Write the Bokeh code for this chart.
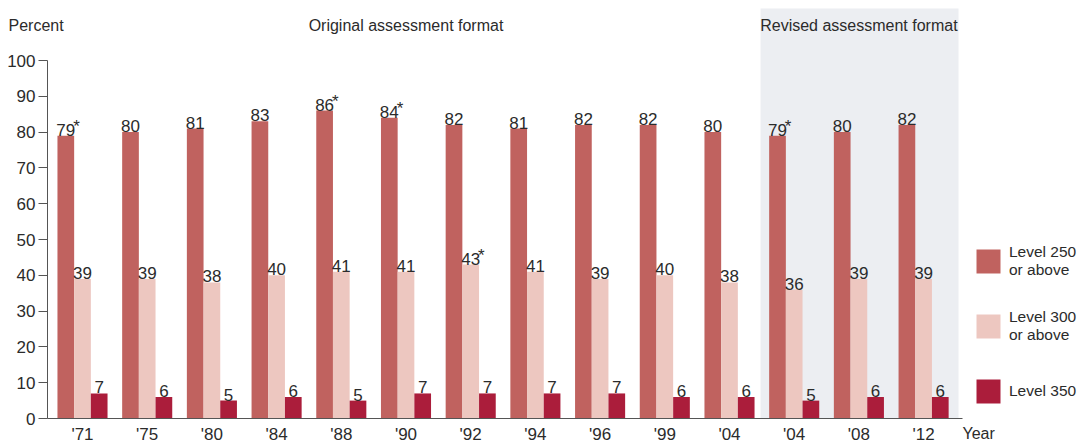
from bokeh.plotting import figure
from bokeh.models import Legend, LegendItem, BoxAnnotation, FixedTicker, Range1d
from bokeh.core.properties import value
from bokeh.embed import file_html
from bokeh.resources import INLINE

# ---- data ----
years = ["'71", "'75", "'80", "'84", "'88", "'90", "'92", "'94", "'96", "'99", "'04", "'04", "'08", "'12"]
level250 = [79, 80, 81, 83, 86, 84, 82, 81, 82, 82, 80, 79, 80, 82]
level300 = [39, 39, 38, 40, 41, 41, 43, 41, 39, 40, 38, 36, 39, 39]
level350 = [7, 6, 5, 6, 5, 7, 7, 7, 7, 6, 6, 5, 6, 6]
star250 = [True, False, False, False, True, True, False, False, False, False, False, True, False, False]
star300 = [False, False, False, False, False, False, True, False, False, False, False, False, False, False]
star350 = [False] * 14
series_names = ["Level 250\nor above", "Level 300\nor above", "Level 350"]
y_ticks = [0, 10, 20, 30, 40, 50, 60, 70, 80, 90, 100]
year_axis_title = "Year"
top_titles = ["Percent", "Original assessment format", "Revised assessment format"]
original_center = 5     # group index the "Original" heading is centred on
revised_center = 12     # group index the "Revised" heading is centred on
revised_start = 11      # first group of the revised format

FONT = "Liberation Sans"
FS = "16px"
NFS = "17px"
TXT = "#2b2b2b"
AXC = "#555555"
COLORS = ["#c0625f", "#edc7c0", "#ab1d3b"]
SHADE = "#eceef2"
BW = 0.258
W, H = 1080, 443
PX = 64.7                  # pixels per year group
PY = 3.58                  # pixels per percent
X0 = -82 / PX              # x value at the left edge of the figure
XE = (W - 82) / PX         # x value at the right edge
XL = -0.541                # x value of the y axis
XR = 13.6                  # end of the x axis line
Y1 = 418 / PY              # y value at top edge
Y0 = -(H - 418) / PY       # y value at bottom edge
SH_L, SH_R, SH_T = revised_start - 0.52, 13.54, (418 - 8) / PY
HEAD_Y = (418 - 25) / PY

p = figure(width=W, height=H, output_backend="svg", toolbar_location=None,
           x_range=Range1d(X0, XE), y_range=Range1d(Y0, Y1),
           min_border=0, min_border_left=0, min_border_right=0, min_border_top=0, min_border_bottom=0)
p.outline_line_color = None
p.xgrid.visible = False
p.ygrid.visible = False

p.add_layout(BoxAnnotation(left=SH_L, right=SH_R, bottom=0, top=SH_T, fill_color=SHADE,
                           fill_alpha=1.0, line_color=None, level="underlay"))

idx = list(range(len(years)))
renderers = []
for k, (vals, stars) in enumerate([(level250, star250), (level300, star300), (level350, star350)]):
    xs = [i + (k - 1) * BW for i in idx]
    r = p.vbar(x=xs, top=vals, width=BW, bottom=0, fill_color=COLORS[k], line_color=None)
    renderers.append(r)
    p.text(x=xs, y=vals, text=[str(v) for v in vals], text_align="center", text_baseline="bottom",
           text_font=value(FONT), text_font_size=NFS, text_color=TXT)
    sx = [x + BW / 2 for x, s in zip(xs, stars) if s]
    sy = [v for v, s in zip(vals, stars) if s]
    if sx:
        p.text(x=sx, y=sy, text=["*"] * len(sx), text_align="left", text_baseline="bottom",
               x_offset=-1, text_font=value(FONT), text_font_size=NFS, text_color=TXT)

# headings
p.text(x=[X0 + 8 / PX], y=[HEAD_Y], text=[top_titles[0]], text_align="left", text_baseline="middle",
       text_font=value(FONT), text_font_size=FS, text_color=TXT)
p.text(x=[original_center, revised_center], y=[HEAD_Y, HEAD_Y], text=top_titles[1:], text_align="center",
       text_baseline="middle", text_font=value(FONT), text_font_size=FS, text_color=TXT)

# y axis (pinned at the left end of the x axis)
p.yaxis.fixed_location = XL
p.yaxis.ticker = FixedTicker(ticks=y_ticks)
p.yaxis.bounds = (0, 100)
p.yaxis.major_tick_out = 9
p.yaxis.major_tick_in = 0
p.yaxis.minor_tick_line_color = None
p.yaxis.major_label_standoff = 3
p.yaxis.major_label_text_font = FONT
p.yaxis.major_label_text_font_size = NFS
p.yaxis.major_label_text_color = TXT
p.yaxis.axis_line_color = AXC
p.yaxis.major_tick_line_color = AXC

# x axis (pinned at 0 %)
p.xaxis.fixed_location = 0
p.xaxis.ticker = FixedTicker(ticks=idx)
p.xaxis.major_label_overrides = {i: y for i, y in zip(idx, years)}
p.xaxis.bounds = (XL, XR)
p.xaxis.major_tick_out = 0
p.xaxis.major_tick_in = 0
p.xaxis.minor_tick_line_color = None
p.xaxis.major_label_standoff = 6
p.xaxis.major_label_text_font = FONT
p.xaxis.major_label_text_font_size = NFS
p.xaxis.major_label_text_color = TXT
p.xaxis.axis_line_color = AXC

p.text(x=[13.85], y=[0], text=[year_axis_title], text_align="center", text_baseline="top",
       y_offset=6, text_font=value(FONT), text_font_size=FS, text_color=TXT)

legend = Legend(items=[LegendItem(label=n, renderers=[r]) for n, r in zip(series_names, renderers)],
                location=(973, 31), orientation="vertical", glyph_width=30, glyph_height=30,
                label_height=42, spacing=23, label_standoff=6, padding=0, margin=0,
                border_line_color=None, background_fill_alpha=0,
                label_text_font=FONT, label_text_font_size="15.5px", label_text_color=TXT,
                label_text_line_height=1.3)
p.add_layout(legend, "center")

open("out.html", "w").write(file_html(p, INLINE))
